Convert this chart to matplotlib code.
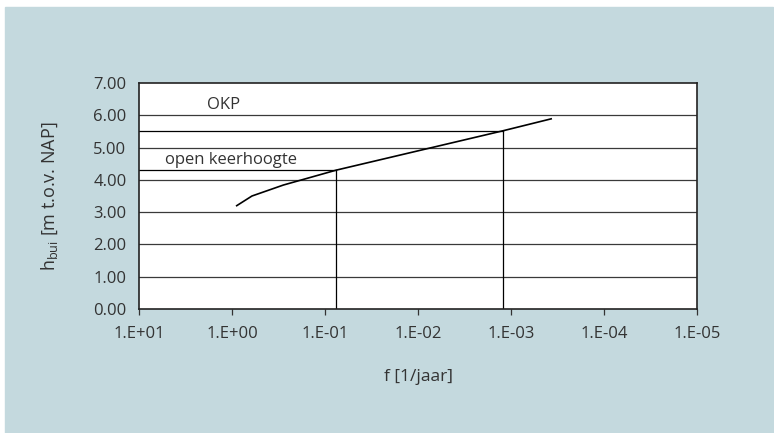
import matplotlib
matplotlib.use("Agg")
import matplotlib.pyplot as plt
import matplotlib.ticker as mticker
from matplotlib.patches import Rectangle

plt.rcParams["font.family"] = ["Open Sans", "DejaVu Sans"]

# curve h_bui vs frequency
freq = [0.89, 0.61, 0.28, 0.076, 0.00122, 3.7e-4]
h_bui = [3.20, 3.50, 3.84, 4.30, 5.52, 5.89]

# reference levels: (label, level, frequency where curve crosses)
level_names = ["open keerhoogte", "OKP"]
level_h = [4.30, 5.52]
level_f = [0.076, 0.00122]

x_ticks = [1e1, 1e0, 1e-1, 1e-2, 1e-3, 1e-4, 1e-5]
x_labels = ["1.E+01", "1.E+00", "1.E-01", "1.E-02", "1.E-03", "1.E-04", "1.E-05"]
y_ticks = [0, 1, 2, 3, 4, 5, 6, 7]

BG = "#c4d9de"
TXT = "#333333"

fig = plt.figure(figsize=(7.74, 4.33), dpi=100, facecolor="white")
bg = Rectangle((5 / 774, 0), 1 - 6 / 774, 1 - 7 / 433,
               transform=fig.transFigure, color=BG, zorder=-5)
fig.add_artist(bg)

ax = fig.add_axes([139 / 774, 124 / 433, 558 / 774, 226 / 433])
ax.set_facecolor("white")
ax.set_xscale("log")
ax.set_xlim(1e1, 1e-5)
ax.set_ylim(0, 7)

for y in y_ticks[1:-1]:
    ax.axhline(y, color="#3a3a3a", lw=0.9, zorder=1)

for name, h, f in zip(level_names, level_h, level_f):
    ax.plot([1e1, f], [h, h], color="black", lw=0.9, zorder=2)
    ax.plot([f, f], [0, h], color="black", lw=0.9, zorder=2)

ax.plot(freq, h_bui, color="black", lw=1.2, zorder=3)

ax.text(1.86, 6.32, "OKP", fontsize=12, color=TXT, va="center", ha="left")
ax.text(5.25, 4.61, "open keerhoogte", fontsize=12, color=TXT, va="center", ha="left")

ax.xaxis.set_major_locator(mticker.FixedLocator(x_ticks))
ax.xaxis.set_minor_locator(mticker.NullLocator())
ax.set_xticklabels(x_labels)
ax.set_yticks(y_ticks)
ax.set_yticklabels([f"{v:.2f}" for v in y_ticks])
ax.tick_params(axis="x", direction="out", length=4, width=0.9, color="#333333",
               labelsize=12, labelcolor=TXT, pad=8)
ax.tick_params(axis="y", length=0, labelsize=12, labelcolor=TXT, pad=9)

for s in ax.spines.values():
    s.set_color("#222222")
    s.set_linewidth(1.2)

ax.set_xlabel("f [1/jaar]", fontsize=12.5, color=TXT, labelpad=20)
ax.set_ylabel(r"h$_{\mathregular{bui}}$ [m t.o.v. NAP]", fontsize=13, color=TXT, labelpad=24)

fig.savefig("out.png", dpi=100)
